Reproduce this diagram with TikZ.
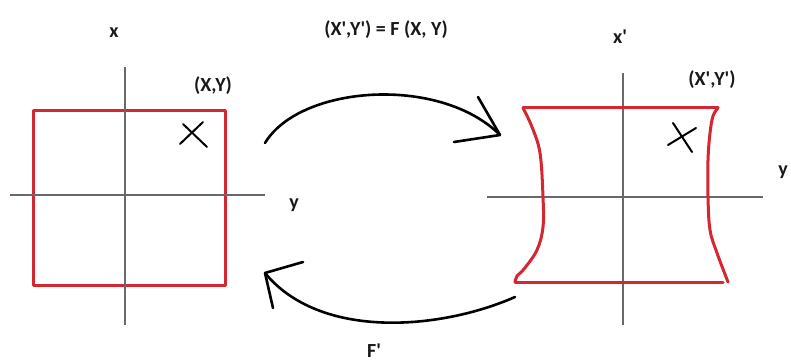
\documentclass[tikz,border=0pt]{standalone}
\usepackage{fontspec}
\setmainfont{Carlito}
\definecolor{boxred}{RGB}{214,38,48}
\definecolor{axisgray}{RGB}{105,105,105}
\newcommand{\pq}{\textquotesingle}
\begin{document}
\begin{tikzpicture}[x=1pt,y=-1pt,
  lbl/.style={font=\fontsize{20}{24}\selectfont\bfseries, inner sep=0pt, text=black!90},
  axis/.style={draw=axisgray, line width=1.3pt},
  redline/.style={draw=boxred, line width=3pt, line join=round, line cap=round},
  pen/.style={draw=black, line width=2.6pt, line cap=round, line join=round},
  thinpen/.style={draw=black, line width=2pt, line cap=round}]
\useasboundingbox (0,0) rectangle (791,363);
% ---------- left panel ----------
\coordinate (LvT) at (125,67);  \coordinate (LvB) at (125,325);
\coordinate (LhL) at (10,195);  \coordinate (LhR) at (265,195);
\draw[redline] (33,111) rectangle (225,285);
\draw[axis] (LvT) -- (LvB);
\draw[axis] (LhL) -- (LhR);
\coordinate (c1a) at (180,144); \coordinate (c1b) at (203,122);
\coordinate (c1c) at (183,124); \coordinate (c1d) at (207,147);
\draw[thinpen] (c1a) -- (c1b);
\draw[thinpen] (c1c) -- (c1d);
\node[lbl] (lx) at (114,33) {x};
\node[lbl] (lxy) at (213,86) {(X,Y)};
\node[lbl] (ly) at (294,205) {y};
% ---------- right panel ----------
\coordinate (RvT) at (623,73);  \coordinate (RvB) at (623,325);
\coordinate (RhL) at (487,197); \coordinate (RhR) at (763,197);
\draw[axis] (RvT) -- (RvB);
\draw[axis] (RhL) -- (RhR);
\draw[redline] (523,108) -- (718,108);
\draw[redline] (515,282) -- (723,282);
\draw[redline] plot[smooth, tension=0.6] coordinates {(523,108) (532,127) (540,153) (543,197) (543,227) (537,250) (524,269) (517,276) (515,282)};
\draw[redline] plot[smooth, tension=0.6] coordinates {(718,108) (713,116) (710,133) (708,160) (708,197) (710,230) (717,253) (728,282)};
\coordinate (c2a) at (668,145); \coordinate (c2b) at (696,128);
\coordinate (c2c) at (673,123); \coordinate (c2d) at (692,152);
\draw[thinpen] (c2a) -- (c2b);
\draw[thinpen] (c2c) -- (c2d);
\node[lbl] (rx) at (620,37) {x\pq};
\node[lbl] (rxy) at (712,80) {(X\pq,Y\pq)};
\node[lbl] (ry) at (783,172) {y};
% ---------- arrows ----------
\node[lbl] (title) at (386,30) {(X\pq,Y\pq) = F (X, Y)};
\node[lbl] (finv) at (374,351) {F\pq};
\coordinate (u0) at (265,143); \coordinate (u1) at (500,135);
\coordinate (uh1) at (478,97); \coordinate (uh2) at (454,142);
\draw[pen] (u0) .. controls (300,85) and (440,75) .. (u1);
\draw[pen] (uh1) -- (u1);
\draw[pen] (uh2) -- (u1);
\coordinate (d0) at (515,297); \coordinate (d1) at (265,273);
\coordinate (dh1) at (303,262); \coordinate (dh2) at (273,308);
\draw[pen] (d0) .. controls (440,330) and (320,340) .. (d1);
\draw[pen] (dh1) -- (d1);
\draw[pen] (dh2) -- (d1);
\end{tikzpicture}
\end{document}
